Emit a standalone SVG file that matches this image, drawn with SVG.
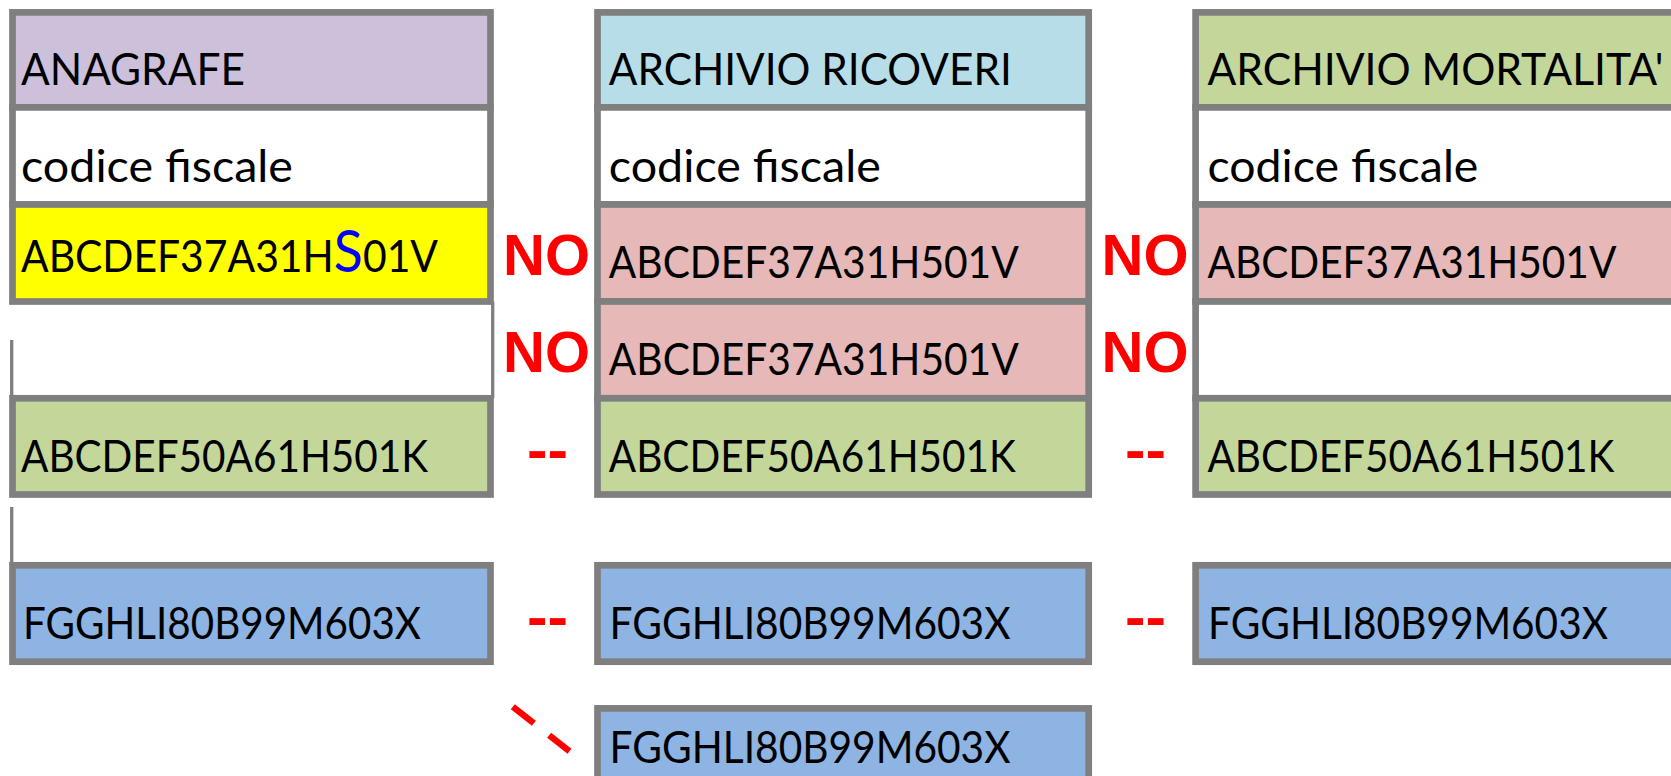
<svg xmlns="http://www.w3.org/2000/svg" width="1671" height="776" viewBox="0 0 1671 776">
<style>
.cell{stroke:#7F7F7F;stroke-width:6.7}
.rule{stroke:#7F7F7F;stroke-width:3.3;fill:none}
.t{font-family:Lato,"Liberation Sans",sans-serif;font-size:44px;fill:#000}
.big{font-size:58px;fill:#0000FF}
.no{font-family:"Liberation Sans",Arial,sans-serif;font-weight:bold;font-size:58px;fill:#FF0000}
.dash{stroke:#FF0000;stroke-width:6.5;fill:none;stroke-dasharray:26.8 19.4}
.hdrA{fill:#CCC0DA}.hdrR{fill:#B7DEE8}.hdrM{fill:#C4D79B}
.white{fill:#FFFFFF}.yellow{fill:#FFFF00}.pink{fill:#E6B8B7}.green{fill:#C4D79B}.blue{fill:#8DB4E2}
</style>
<rect width="1671" height="776" fill="#FFFFFF"/>

<!-- Left column: ANAGRAFE -->
<g id="anagrafe-header"><rect class="cell hdrA" x="12.5" y="12.4" width="478" height="95"/><text class="t" x="21" y="85" textLength="224" lengthAdjust="spacingAndGlyphs">ANAGRAFE</text></g>
<g id="anagrafe-cf"><rect class="cell white" x="12.5" y="107.4" width="478" height="97.1"/><text class="t" x="21" y="181.7" textLength="272" lengthAdjust="spacingAndGlyphs">codice fiscale</text></g>
<g id="anagrafe-r1"><rect class="cell yellow" x="12.5" y="204.5" width="478" height="97"/><text class="t" x="21" y="272" textLength="417" lengthAdjust="spacingAndGlyphs">ABCDEF37A31H<tspan class="big">S</tspan>01V</text></g>
<g id="anagrafe-r2"><path class="rule" d="M492.7 301.5V398.3M11.7 340V398.3"/></g>
<g id="anagrafe-r3"><rect class="cell green" x="12.5" y="398.3" width="478" height="96.2"/><text class="t" x="21" y="471.7" textLength="407" lengthAdjust="spacingAndGlyphs">ABCDEF50A61H501K</text></g>
<g id="anagrafe-gap"><path class="rule" d="M11.7 507V562"/></g>
<g id="anagrafe-r4"><rect class="cell blue" x="12.5" y="565.3" width="478" height="96.4"/><text class="t" x="23" y="639" textLength="398" lengthAdjust="spacingAndGlyphs">FGGHLI80B99M603X</text></g>

<!-- Middle column: ARCHIVIO RICOVERI -->
<g id="ricoveri-header"><rect class="cell hdrR" x="597.5" y="12.4" width="491.2" height="95"/><text class="t" x="608.8" y="85" textLength="403" lengthAdjust="spacingAndGlyphs">ARCHIVIO RICOVERI</text></g>
<g id="ricoveri-cf"><rect class="cell white" x="597.5" y="107.4" width="491.2" height="97.1"/><text class="t" x="608.8" y="181.7" textLength="272" lengthAdjust="spacingAndGlyphs">codice fiscale</text></g>
<g id="ricoveri-r1"><rect class="cell pink" x="597.5" y="204.5" width="491.2" height="97"/><text class="t" x="608.8" y="278.3" textLength="410" lengthAdjust="spacingAndGlyphs">ABCDEF37A31H501V</text></g>
<g id="ricoveri-r2"><rect class="cell pink" x="597.5" y="301.5" width="491.2" height="96.8"/><text class="t" x="608.8" y="375" textLength="410" lengthAdjust="spacingAndGlyphs">ABCDEF37A31H501V</text></g>
<g id="ricoveri-r3"><rect class="cell green" x="597.5" y="398.3" width="491.2" height="96.2"/><text class="t" x="608.8" y="471.7" textLength="407" lengthAdjust="spacingAndGlyphs">ABCDEF50A61H501K</text></g>
<g id="ricoveri-r4"><rect class="cell blue" x="597.5" y="565.3" width="491.2" height="96.4"/><text class="t" x="609.6" y="639" textLength="401" lengthAdjust="spacingAndGlyphs">FGGHLI80B99M603X</text></g>
<g id="ricoveri-r5"><rect class="cell blue" x="597.5" y="708.4" width="491.2" height="100"/><text class="t" x="609.6" y="762.7" textLength="401" lengthAdjust="spacingAndGlyphs">FGGHLI80B99M603X</text></g>

<!-- Right column: ARCHIVIO MORTALITA' -->
<g id="mortalita-header"><rect class="cell hdrM" x="1195.6" y="12.4" width="520" height="95"/><text class="t" x="1207.4" y="85" textLength="456" lengthAdjust="spacingAndGlyphs">ARCHIVIO MORTALITA'</text></g>
<g id="mortalita-cf"><rect class="cell white" x="1195.6" y="107.4" width="520" height="97.1"/><text class="t" x="1207.4" y="181.7" textLength="271" lengthAdjust="spacingAndGlyphs">codice fiscale</text></g>
<g id="mortalita-r1"><rect class="cell pink" x="1195.6" y="204.5" width="520" height="97"/><text class="t" x="1207.4" y="278.3" textLength="409" lengthAdjust="spacingAndGlyphs">ABCDEF37A31H501V</text></g>
<g id="mortalita-r2"><rect class="cell white" x="1195.6" y="301.5" width="520" height="96.8"/></g>
<g id="mortalita-r3"><rect class="cell green" x="1195.6" y="398.3" width="520" height="96.2"/><text class="t" x="1207.4" y="471.7" textLength="407" lengthAdjust="spacingAndGlyphs">ABCDEF50A61H501K</text></g>
<g id="mortalita-r4"><rect class="cell blue" x="1195.6" y="565.3" width="520" height="96.4"/><text class="t" x="1208" y="639" textLength="400" lengthAdjust="spacingAndGlyphs">FGGHLI80B99M603X</text></g>

<!-- Match marks -->
<g id="connectors">
<text class="no" x="503" y="275" textLength="87" lengthAdjust="spacingAndGlyphs">NO</text>
<text class="no" x="503" y="372" textLength="87" lengthAdjust="spacingAndGlyphs">NO</text>
<text class="no" x="1101.5" y="275" textLength="87" lengthAdjust="spacingAndGlyphs">NO</text>
<text class="no" x="1101.5" y="372" textLength="87" lengthAdjust="spacingAndGlyphs">NO</text>
<text class="no" x="527" y="469.5" textLength="41" lengthAdjust="spacingAndGlyphs">--</text>
<text class="no" x="527" y="636.5" textLength="41" lengthAdjust="spacingAndGlyphs">--</text>
<text class="no" x="1125" y="469.5" textLength="41" lengthAdjust="spacingAndGlyphs">--</text>
<text class="no" x="1125" y="636.5" textLength="41" lengthAdjust="spacingAndGlyphs">--</text>
<path class="dash" d="M512.8 706.7L569.5 751.2"/>
</g>
</svg>
